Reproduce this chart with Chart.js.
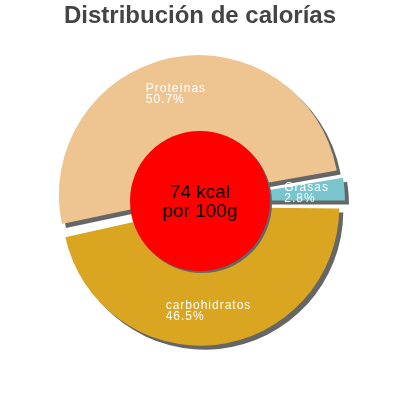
<!DOCTYPE html>
<html><head><meta charset="utf-8">
<script src="https://cdn.jsdelivr.net/npm/chart.js@4"></script>
<style>html,body{margin:0;padding:0;background:#fff}</style>
</head><body>
<canvas id="c" width="400" height="400"></canvas>
<script>
const chartTitle = 'Distribución de calorías';
const categories = ['Proteínas', 'Grasas', 'carbohidratos'];
const values = [50.7, 2.8, 46.5];
const colors = ['#EEC591', '#7AC5CD', '#DAA520'];
const centerLines = ['74 kcal', 'por 100g'];

const decor = {
  id: 'decor',
  beforeDatasetsDraw(chart) {
    const ctx = chart.ctx;
    ctx.save();
    ctx.shadowColor = '#666';
    ctx.shadowOffsetX = 4;
    ctx.shadowOffsetY = 4;
    ctx.shadowBlur = 0;
  },
  afterDatasetsDraw(chart) {
    const ctx = chart.ctx;
    ctx.restore();
    const arcs = chart.getDatasetMeta(0).data;
    const cx = arcs[0].x, cy = arcs[0].y;
    // red centre disc
    ctx.save();
    ctx.shadowColor = '#666';
    ctx.shadowOffsetX = 2;
    ctx.shadowOffsetY = 2;
    ctx.shadowBlur = 0;
    ctx.fillStyle = '#FF0000';
    ctx.beginPath();
    ctx.arc(cx, cy, 70, 0, Math.PI * 2);
    ctx.fill();
    ctx.restore();
    // centre text
    ctx.save();
    ctx.fillStyle = '#000';
    ctx.font = '19px "Liberation Sans", Arial, sans-serif';
    ctx.textAlign = 'center';
    ctx.textBaseline = 'alphabetic';
    ctx.fillText(centerLines[0], cx, cy - 3);
    ctx.fillText(centerLines[1], cx, cy + 15.5);
    ctx.restore();
    // slice labels
    ctx.save();
    ctx.fillStyle = '#fff';
    ctx.font = '12px "Liberation Sans", Arial, sans-serif';
    ctx.letterSpacing = '1px';
    ctx.textAlign = 'left';
    ctx.textBaseline = 'alphabetic';
    arcs.forEach((arc, i) => {
      const p = arc.getProps(['startAngle', 'endAngle', 'outerRadius', 'x', 'y'], true);
      const th = (p.startAngle + p.endAngle) / 2;
      const d = 110;
      const px = p.x + Math.cos(th) * d;
      const py = p.y + Math.sin(th) * d;
      const lines = [categories[i], values[i].toFixed(1) + '%'];
      const w = Math.max(...lines.map(l => ctx.measureText(l).width));
      const left = px - w / 2 - 3;
      ctx.fillText(lines[0], left, py - 1);
      ctx.fillText(lines[1], left, py + 10);
    });
    ctx.restore();
  }
};

new Chart(document.getElementById('c'), {
  type: 'pie',
  data: {
    labels: categories,
    datasets: [{
      data: values,
      backgroundColor: colors,
      borderWidth: 0,
      offset: 24,
      clip: false
    }]
  },
  options: {
    responsive: false,
    animation: false,
    devicePixelRatio: 1,
    rotation: 257.7,
    layout: { padding: { top: 0, bottom: 53, left: 0, right: 0 } },
    plugins: {
      legend: { display: false },
      tooltip: { enabled: false },
      title: {
        display: true,
        text: chartTitle,
        color: '#444',
        font: { family: '"Liberation Sans", Arial, sans-serif', size: 24, weight: 'bold', lineHeight: 1.2 },
        padding: { top: 2, bottom: 24.2 }
      }
    }
  },
  plugins: [decor]
});
</script>
</body></html>
